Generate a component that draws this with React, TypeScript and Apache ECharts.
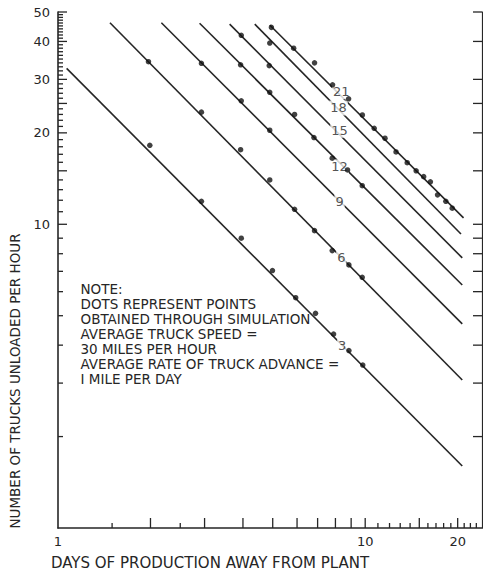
import { useEffect, useRef } from 'react';
import * as echarts from 'echarts';

// ---- data ----
const lineNames = ['3', '6', '9', '12', '15', '18', '21'];
const lineStarts = [[1.067, 32.6], [1.476, 46.1], [2.17, 46.1], [2.89, 45.9], [3.62, 45.6], [4.37, 45.6], [4.89, 45.3]];
const lineEnds = [[20.7, 1.6], [20.7, 3.07], [20.7, 4.7], [20.7, 6.31], [20.7, 7.75], [20.5, 9.29], [20.9, 10.5]];
const lineLabelPos = [[8.42, 4.0], [8.36, 7.8], [8.25, 11.9], [8.25, 15.45], [8.25, 20.4], [8.19, 24.15], [8.36, 27.3]];

const dots3 = [[1.99, 18.2], [2.93, 11.9], [3.95, 9.0], [4.99, 7.04], [5.94, 5.73], [6.89, 5.09], [7.89, 4.35], [8.85, 3.84], [9.82, 3.44]];
const dots6 = [[1.97, 34.3], [2.93, 23.4], [3.93, 17.6], [4.89, 14.0], [5.89, 11.2], [6.84, 9.53], [7.81, 8.19], [8.85, 7.35], [9.78, 6.69]];
const dots9 = [[2.93, 33.9], [3.95, 25.5], [4.89, 20.4]];
const dots12 = [[3.93, 33.5], [4.89, 27.2], [5.89, 23.0], [6.81, 19.3], [7.81, 16.5], [8.76, 15.1], [9.78, 13.4]];
const dots15 = [[3.95, 41.9], [4.87, 33.3]];
const dots18 = [[4.89, 39.5]];
const dots21 = [[4.95, 44.5], [5.85, 38.0], [6.84, 34.0], [7.83, 28.8], [8.83, 25.9], [9.79, 22.9], [10.7, 20.7], [11.6, 19.2], [12.6, 17.3], [13.7, 15.95], [14.65, 15.0], [15.5, 14.35], [16.3, 13.8], [17.2, 12.5], [18.3, 11.9], [19.2, 11.3]];

const xTickLabels = [1, 10, 20];
const yTickLabels = [10, 20, 30, 40, 50];
const xMajorTicks = [2, 3, 4, 5, 6, 7, 8, 9, 10, 15, 20];
const xMinorTicks = [1.5, 2.5, 11, 12, 13, 14, 16, 17, 18, 19, 21, 22, 23];
const yMajorTicks = [10, 15, 20, 25, 30, 40, 50];
const yMinorTicks = [2, 3, 4, 5, 6, 7, 8, 9, 11, 12, 13, 14, 16, 17, 18, 19, 21, 22, 23, 24, 26, 27, 28, 29, 31, 32, 33, 34, 35, 36, 37, 38, 39, 41, 42, 43, 44, 45, 46, 47, 48, 49];
const rightTicks = [2, 3, 4, 5, 6, 7, 8, 9, 10, 15, 20, 25, 30, 40, 50];

const X_MIN = 1;
const X_MAX = 24;
const Y_MIN = 1;
const Y_MAX = 50;

const noteLines = [
  'NOTE:',
  'DOTS REPRESENT POINTS',
  'OBTAINED THROUGH SIMULATION',
  'AVERAGE TRUCK SPEED =',
  '30 MILES PER HOUR',
  'AVERAGE RATE OF TRUCK ADVANCE =',
  'I MILE PER DAY',
];
const xTitle = 'DAYS OF PRODUCTION AWAY FROM PLANT';
const yTitle = 'NUMBER OF TRUCKS UNLOADED PER HOUR';

// ---- styles ----
const INK = '#262626';
const FONT = '"DejaVu Sans", sans-serif';

function tickSeries(values: number[], side: 'x' | 'y' | 'r', len: number) {
  return {
    type: 'custom',
    silent: true,
    z: 6,
    data: values.map((v) => (side === 'x' ? [v, Y_MIN] : [side === 'r' ? X_MAX : X_MIN, v])),
    renderItem: (_p: any, api: any) => {
      const p = api.coord([api.value(0), api.value(1)]);
      let shape;
      if (side === 'x') shape = { x1: p[0], y1: p[1], x2: p[0], y2: p[1] - len };
      else if (side === 'y') shape = { x1: p[0], y1: p[1], x2: p[0] + len, y2: p[1] };
      else shape = { x1: p[0], y1: p[1], x2: p[0] - len, y2: p[1] };
      return { type: 'line', shape, style: { stroke: INK, lineWidth: 1.3 } };
    },
  };
}

function tickLabelSeries(values: number[], side: 'x' | 'y') {
  return {
    type: 'custom',
    silent: true,
    z: 6,
    data: values.map((v) => (side === 'x' ? [v, Y_MIN] : [X_MIN, v])),
    renderItem: (_p: any, api: any) => {
      const v = side === 'x' ? api.value(0) : api.value(1);
      const p = api.coord([api.value(0), api.value(1)]);
      return {
        type: 'text',
        x: side === 'x' ? p[0] : p[0] - 8,
        y: side === 'x' ? p[1] + 13 : p[1],
        style: {
          text: String(v),
          fill: INK,
          fontSize: 13,
          fontFamily: FONT,
          align: side === 'x' ? 'center' : 'right',
          verticalAlign: 'middle',
        },
      };
    },
  };
}

export default function App() {
  const ref = useRef<HTMLDivElement>(null);

  useEffect(() => {
    document.body.style.margin = '0';
    const chart = echarts.init(ref.current!, undefined, { renderer: 'svg' });

    const allDots = [dots3, dots6, dots9, dots12, dots15, dots18, dots21];

    const lineSeries = lineNames.map((name, i) => ({
      type: 'line',
      name: 'n' + name,
      data: [lineStarts[i], lineEnds[i]],
      showSymbol: false,
      symbol: 'none',
      silent: true,
      z: 2,
      lineStyle: { color: INK, width: 1.6 },
    }));

    const option: any = {
      animation: false,
      backgroundColor: '#ffffff',
      grid: { left: 58, right: 1, top: 12, bottom: 43, containLabel: false },
      xAxis: {
        type: 'log',
        min: X_MIN,
        max: X_MAX,
        axisLine: { show: true, lineStyle: { color: INK, width: 1.6 } },
        axisTick: { show: false },
        axisLabel: { show: false },
        splitLine: { show: false },
      },
      yAxis: [
        {
          type: 'log',
          min: Y_MIN,
          max: Y_MAX,
          position: 'left',
          axisLine: { show: true, lineStyle: { color: INK, width: 1.6 } },
          axisTick: { show: false },
          axisLabel: { show: false },
          splitLine: { show: false },
        },
        {
          type: 'log',
          min: Y_MIN,
          max: Y_MAX,
          position: 'right',
          axisLine: { show: true, lineStyle: { color: INK, width: 1.2 } },
          axisTick: { show: false },
          axisLabel: { show: false },
          splitLine: { show: false },
        },
      ],
      series: [
        ...lineSeries,
        {
          type: 'scatter',
          name: 'labels',
          z: 3,
          silent: true,
          symbolSize: 1,
          itemStyle: { color: 'rgba(0,0,0,0)' },
          data: lineNames.map((n, i) => ({ name: n, value: lineLabelPos[i] })),
          label: {
            show: true,
            position: 'inside',
            formatter: '{b}',
            color: INK,
            fontSize: 13,
            fontFamily: FONT,
            backgroundColor: '#ffffff',
            padding: [1, 1],
          },
        },
        {
          type: 'scatter',
          name: 'dots',
          z: 4,
          silent: true,
          symbol: 'circle',
          symbolSize: 5.5,
          itemStyle: { color: '#111111' },
          data: allDots.flat(),
        },
        tickSeries(xMajorTicks, 'x', 10),
        tickSeries(xMinorTicks, 'x', 5),
        tickSeries(yMajorTicks, 'y', 9),
        tickSeries(yMinorTicks, 'y', 5),
        tickSeries(rightTicks, 'r', 9),
        tickLabelSeries(xTickLabels, 'x'),
        tickLabelSeries(yTickLabels, 'y'),
      ],
      graphic: [
        {
          type: 'text',
          x: 80.5,
          y: 281,
          silent: true,
          style: {
            text: noteLines.join('\n'),
            fill: INK,
            fontSize: 13.5,
            fontFamily: FONT,
            lineHeight: 15,
            verticalAlign: 'top',
          },
        },
        {
          type: 'text',
          x: 210,
          y: 563,
          silent: true,
          style: {
            text: xTitle,
            fill: INK,
            fontSize: 15,
            fontFamily: FONT,
            align: 'center',
            verticalAlign: 'middle',
          },
        },
        {
          type: 'text',
          x: 14.5,
          y: 381,
          rotation: Math.PI / 2,
          silent: true,
          style: {
            text: yTitle,
            fill: INK,
            fontSize: 13.5,
            fontFamily: FONT,
            align: 'center',
            verticalAlign: 'middle',
          },
        },
      ],
    };

    chart.setOption(option);
    return () => chart.dispose();
  }, []);

  return (
    <div
      ref={ref}
      style={{ position: 'fixed', left: 0, top: 0, width: 483, height: 571, background: '#fff' }}
    />
  );
}
